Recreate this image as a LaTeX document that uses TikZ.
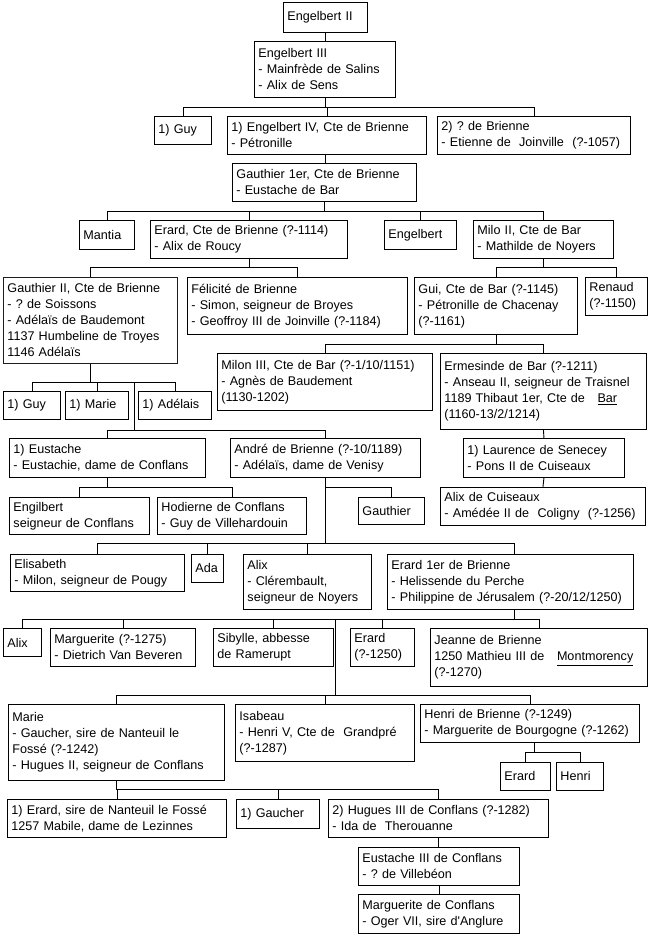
\documentclass[tikz,border=0pt]{standalone}
\usepackage{fontspec}
\setmainfont{Liberation Sans}
\frenchspacing
\tikzset{
  person/.style={draw, line width=0.9pt, anchor=north west, inner xsep=4pt, inner ysep=0pt,
    align=left, font=\fontsize{12.6}{16}\selectfont},
  link/.style={line width=0.9pt},
}
\begin{document}
\begin{tikzpicture}[x=1pt,y=-1pt]
  \useasboundingbox (0,0) rectangle (648,934);
  % first generations
  \node[person, text width=76pt, minimum height=30pt] (eng2) at (283,2) {Engelbert II};
  \node[person, text width=133pt, minimum height=56pt] (eng3) at (254,41) {Engelbert III\\- Mainfrède de Salins\\- Alix de Sens};
  \node[person, text width=49pt, minimum height=28pt] (guyA) at (154,116) {1) Guy};
  \node[person, text width=191pt, minimum height=38pt] (eng4) at (227,116) {1) Engelbert IV, Cte de Brienne\\- Pétronille};
  \node[person, text width=185pt, minimum height=38pt] (brienne) at (437,116) {2) ? de Brienne\\- Etienne de\ \ Joinville\ \ (?-1057)};
  \node[person, text width=176pt, minimum height=38pt] (gauth1) at (232,163) {Gauthier 1er, Cte de Brienne\\- Eustache de Bar};
  \node[person, text width=47pt, minimum height=29pt] (mantia) at (79,220) {Mantia};
  \node[person, text width=189pt, minimum height=38pt] (erard) at (150,220) {Erard, Cte de Brienne (?-1114)\\- Alix de Roucy};
  \node[person, text width=64pt, minimum height=29pt] (engelbert) at (384,220) {Engelbert};
  \node[person, text width=132pt, minimum height=38pt] (milo) at (473,220) {Milo II, Cte de Bar\\- Mathilde de Noyers};
  % Brienne and Bar
  \node[person, draw=blue, text width=166pt, minimum height=86pt] (gauth2) at (3,277) {Gauthier II, Cte de Brienne\\- ? de Soissons\\- Adélaïs de Baudemont\\1137 Humbeline de Troyes\\1146 Adélaïs};
  \node[person, text width=212pt, minimum height=57pt] (felicite) at (187,277) {Félicité de Brienne\\- Simon, seigneur de Broyes\\- Geoffroy III de Joinville (?-1184)};
  \node[person, text width=155pt, minimum height=57pt] (gui) at (414,277) {Gui, Cte de Bar (?-1145)\\- Pétronille de Chacenay\\(?-1161)};
  \node[person, text width=54pt, minimum height=38pt] (renaud) at (585,277) {Renaud\\(?-1150)};
  \node[person, text width=207pt, minimum height=57pt] (milon) at (217,353) {Milon III, Cte de Bar (?-1/10/1151)\\- Agnès de Baudement\\(1130-1202)};
  \node[person, text width=198pt, minimum height=76pt] (ermesinde) at (440,353) {Ermesinde de Bar (?-1211)\\- Anseau II, seigneur de Traisnel\\1189 Thibaut 1er, Cte de\ \ \ \underline{Bar}\\(1160-13/2/1214)};
  \node[person, text width=49pt, minimum height=28pt] (guyB) at (3,391) {1) Guy};
  \node[person, text width=55pt, minimum height=28pt] (marieA) at (65,391) {1) Marie};
  \node[person, text width=65pt, minimum height=28pt] (adelais) at (138,391) {1) Adélais};
  \node[person, text width=188pt, minimum height=39pt] (eustache) at (9,438) {1) Eustache\\- Eustachie, dame de Conflans};
  \node[person, text width=182pt, minimum height=39pt] (andre) at (230,438) {André de Brienne (?-10/1189)\\- Adélaïs, dame de Venisy};
  \node[person, text width=153pt, minimum height=39pt] (laurence) at (463,438) {1) Laurence de Senecey\\- Pons II de Cuiseaux};
  \node[person, text width=132pt, minimum height=37pt] (engilbert) at (9,497) {Engilbert\\seigneur de Conflans};
  \node[person, text width=141pt, minimum height=37pt] (hodierne) at (157,497) {Hodierne de Conflans\\- Guy de Villehardouin};
  \node[person, text width=58pt, minimum height=27pt] (gauthier) at (358,497) {Gauthier};
  \node[person, text width=197pt, minimum height=38pt] (alixC) at (440,487) {Alix de Cuiseaux\\- Amédée II de\ \ Coligny\ \ (?-1256)};
  % children of Andre
  \node[person, text width=166pt, minimum height=37pt] (elisabeth) at (10,554) {Elisabeth\\- Milon, seigneur de Pougy};
  \node[person, text width=24pt, minimum height=28pt] (ada) at (191,554) {Ada};
  \node[person, text width=120pt, minimum height=55pt] (alixA) at (243,554) {Alix\\- Clérembault,\\seigneur de Noyers};
  \node[person, text width=238pt, minimum height=55pt] (erard1) at (387,554) {Erard 1er de Brienne\\- Helissende du Perche\\- Philippine de Jérusalem (?-20/12/1250)};
  % children of Erard 1er
  \node[person, text width=30pt, minimum height=28pt] (alixB) at (3,628) {Alix};
  \node[person, text width=137pt, minimum height=38pt] (marguerite) at (50,628) {Marguerite (?-1275)\\- Dietrich Van Beveren};
  \node[person, text width=112pt, minimum height=38pt] (sibylle) at (213,628) {Sibylle, abbesse\\de Ramerupt};
  \node[person, text width=56pt, minimum height=38pt] (erardB) at (350,628) {Erard\\(?-1250)};
  \node[person, text width=209pt, minimum height=58pt] (jeanne) at (430,628) {Jeanne de Brienne\\1250 Mathieu III de\ \ \ \underline{Montmorency}\\(?-1270)};
  \node[person, text width=208pt, minimum height=76pt] (marieB) at (8,704) {Marie\\- Gaucher, sire de Nanteuil le\\Fossé (?-1242)\\- Hugues II, seigneur de Conflans};
  \node[person, text width=171pt, minimum height=57pt] (isabeau) at (235,704) {Isabeau\\- Henri V, Cte de\ \ Grandpré\\(?-1287)};
  \node[person, text width=211pt, minimum height=38pt] (henri) at (420,704) {Henri de Brienne (?-1249)\\- Marguerite de Bourgogne (?-1262)};
  \node[person, text width=42pt, minimum height=28pt] (erardC) at (500,762) {Erard};
  \node[person, text width=39pt, minimum height=28pt] (henriB) at (556,762) {Henri};
  % Conflans
  \node[person, text width=211pt, minimum height=38pt] (erardD) at (7,799) {1) Erard, sire de Nanteuil le Fossé\\1257 Mabile, dame de Lezinnes};
  \node[person, text width=75pt, minimum height=29pt] (gaucher) at (236,799) {1) Gaucher};
  \node[person, text width=212pt, minimum height=38pt] (hugues) at (328,799) {2) Hugues III de Conflans (?-1282)\\- Ida de\ \ Therouanne};
  \node[person, text width=153pt, minimum height=38pt] (eustache3) at (358,847) {Eustache III de Conflans\\- ? de Villebéon};
  \node[person, text width=153pt, minimum height=39pt] (margueriteC) at (358,894) {Marguerite de Conflans\\- Oger VII, sire d\textquotesingle Anglure};
  \coordinate (fork) at (134.5,382);
  \coordinate (split) at (335,619);
  % links
  \draw[link] (eng2.south) -- (eng2.south |- eng3.north);
  \foreach \c in {guyA,eng4,brienne} \draw[link] (eng3.south) -- ++(0,10) -| (\c.north);
  \draw[link] (eng4.south -| eng3.south) -- (gauth1.north -| eng3.south);
  \foreach \c in {mantia,erard,engelbert,milo} \draw[link] (gauth1.south) -- ++(0,10) -| (\c.north);
  \foreach \c in {gauth2,felicite} \draw[link] (erard.south) -- ++(0,9) -| (\c.north);
  \foreach \c in {gui,renaud} \draw[link] (milo.south) -- ++(0,9) -| (\c.north);
  \foreach \c in {milon,ermesinde} \draw[link] (gui.south) -- ++(0,10) -| (\c.north);
  \foreach \c in {guyB,marieA,adelais,fork} \draw[link] (gauth2.south) -- ++(0,19) -| (\c.north);
  \foreach \c in {eustache,andre} \draw[link] (fork) -- ++(0,48) -| (\c.north);
  \draw[link] (ermesinde.south) -- (laurence.north);
  \draw[link] (laurence.south) -- (alixC.north);
  \foreach \c in {engilbert,hodierne} \draw[link] (eustache.south) -- ++(0,10) -| (\c.north);
  \draw[link] (andre.south) -- ++(0,10) -| (gauthier.north);
  \foreach \c in {elisabeth,ada,alixA} \draw[link] (andre.south) -- ++(0,66) -| (\c.north);
  \draw[link] (andre.south) -- ++(0,66) -| ([xshift=4pt]erard1.north);
  \foreach \c in {alixB,marguerite,sibylle,erardB,jeanne,split} \draw[link] ([xshift=4pt]erard1.south) -- ++(0,10) -| (\c.north);
  \foreach \c in {marieB,isabeau,henri} \draw[link] (split) -- ++(0,76) -| (\c.north);
  \foreach \c in {erardC,henriB} \draw[link] ([xshift=4pt]henri.south) -- ++(0,10) -| (\c.north);
  \foreach \c in {erardD,gaucher,hugues} \draw[link] (marieB.south) -- ++(0,9) -| (\c.north);
  \draw[link] (hugues.south) -- (hugues.south |- eustache3.north);
  \draw[link] (eustache3.south) -- (margueriteC.north);
\end{tikzpicture}
\end{document}
